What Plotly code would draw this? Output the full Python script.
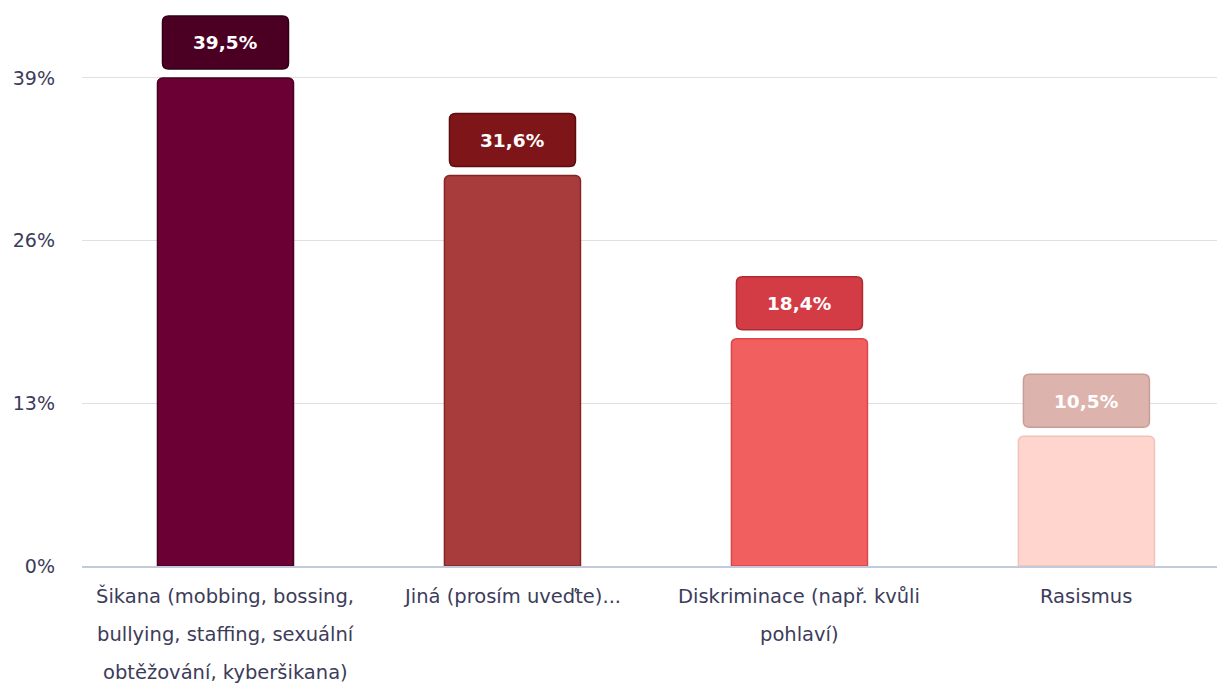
import plotly.graph_objects as go

# Survey answers and their shares (%)
categories = [
    "Šikana (mobbing, bossing, bullying, staffing, sexuální obtěžování, kyberšikana)",
    "Jiná (prosím uveďte)...",
    "Diskriminace (např. kvůli pohlaví)",
    "Rasismus",
]
label_lines = [
    ["Šikana (mobbing, bossing,", "bullying, staffing, sexuální", "obtěžování, kyberšikana)"],
    ["Jiná (prosím uveďte)..."],
    ["Diskriminace (např. kvůli", "pohlaví)"],
    ["Rasismus"],
]
values = [39.5, 31.6, 18.4, 10.5]
value_labels = ["39,5%", "31,6%", "18,4%", "10,5%"]

tick_values = [0, 39.5 / 3, 2 * 39.5 / 3, 39.5]
tick_labels = ["0%", "13%", "26%", "39%"]

bar_colors = ["#6a0033", "#a83c3c", "#f25f5f", "#ffd5cd"]
bar_edges = ["#4a0022", "#852626", "#d9474c", "#f0c2ba"]
badge_colors = ["#4b0023", "#7e1519", "#d33c45", "#ddb4ad"]
badge_edges = ["#2e0014", "#5c0d10", "#b02a33", "#c99d96"]

FONT = "DejaVu Sans"
TEXT = "#3c3c5a"

xs = list(range(len(categories)))

fig = go.Figure(
    go.Bar(
        x=xs,
        y=values,
        width=0.474,
        marker=dict(
            color=bar_colors,
            line=dict(color=bar_edges, width=1.5),
            cornerradius=5,
        ),
        hoverinfo="skip",
    )
)


def rounded_rect(x0, x1, y0, y1, r):
    return (
        f"M {x0 + r},{y0} L {x1 - r},{y0} Q {x1},{y0} {x1},{y0 + r} "
        f"L {x1},{y1 - r} Q {x1},{y1} {x1 - r},{y1} "
        f"L {x0 + r},{y1} Q {x0},{y1} {x0},{y1 - r} "
        f"L {x0},{y0 + r} Q {x0},{y0} {x0 + r},{y0} Z"
    )


badge_path = rounded_rect(-63, 63, 9, 62, 6)

for i, v in enumerate(values):
    # value badge anchored on the bar top, sized in pixels
    fig.add_shape(
        type="path",
        xref="x",
        yref="y",
        xsizemode="pixel",
        ysizemode="pixel",
        xanchor=xs[i],
        yanchor=v,
        path=badge_path,
        fillcolor=badge_colors[i],
        line=dict(color=badge_edges[i], width=1.5),
        layer="above",
    )
    fig.add_annotation(
        x=xs[i],
        y=v,
        xref="x",
        yref="y",
        yshift=35,
        text=value_labels[i],
        showarrow=False,
        font=dict(family=FONT, size=18.5, color="#ffffff", weight=600),
    )
    # wrapped category label, one annotation per line
    for j, line in enumerate(label_lines[i]):
        fig.add_annotation(
            x=xs[i],
            y=0,
            xref="x",
            yref="paper",
            yshift=-30 - 38 * j,
            yanchor="middle",
            text=line,
            showarrow=False,
            font=dict(family=FONT, size=19.5, color=TEXT),
        )

fig.update_layout(
    width=1217,
    height=686,
    margin=dict(l=82, r=0, t=0, b=120),
    paper_bgcolor="#ffffff",
    plot_bgcolor="#ffffff",
    showlegend=False,
    font=dict(family=FONT, size=19, color=TEXT),
    xaxis=dict(
        range=[-0.5, 3.455],
        showticklabels=False,
        showgrid=False,
        zeroline=False,
        showline=True,
        linecolor="#c3cade",
        linewidth=1.5,
        ticks="",
        fixedrange=True,
    ),
    yaxis=dict(
        range=[0, 45.81],
        tickvals=tick_values,
        ticktext=tick_labels,
        showgrid=True,
        gridcolor="#e0e0e0",
        gridwidth=1,
        zeroline=False,
        showline=False,
        ticks="",
        ticklabelstandoff=26,
        tickfont=dict(family=FONT, size=19, color=TEXT),
        fixedrange=True,
    ),
)

fig.write_html("out.html")
